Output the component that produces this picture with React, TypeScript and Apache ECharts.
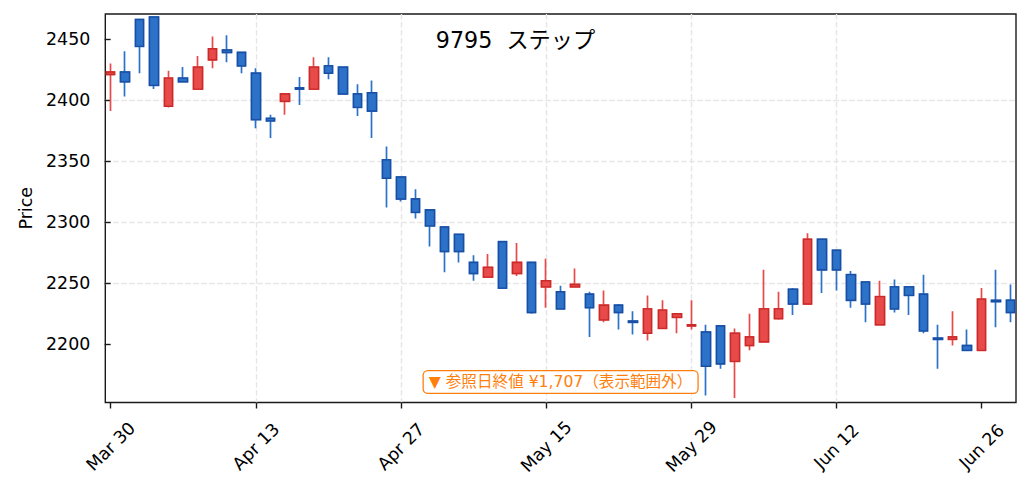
import React, { useEffect, useRef } from 'react';
import * as echarts from 'echarts';

// ---- data ----
const tickIndices = [0, 10, 20, 30, 40, 50, 60];
const tickLabels = ['Mar 30', 'Apr 13', 'Apr 27', 'May 15', 'May 29', 'Jun 12', 'Jun 26'];
const priceTicks = [2200, 2250, 2300, 2350, 2400, 2450];

const opens = [
  2421, 2423, 2466, 2468, 2395, 2418, 2409, 2433, 2441, 2439,
  2422, 2385, 2399, 2410, 2409, 2428, 2427, 2405, 2406, 2351,
  2337, 2319, 2310, 2296, 2290, 2267, 2255, 2284, 2258, 2267,
  2247, 2243, 2247, 2241, 2220, 2232, 2219, 2209, 2213, 2222,
  2215, 2210, 2215, 2186, 2199, 2202, 2221, 2245, 2233, 2286,
  2277, 2257, 2251, 2216, 2247, 2247, 2241, 2205, 2204, 2199,
  2195, 2236, 2236,
];
const closes = [
  2423, 2415, 2444, 2412, 2418, 2415, 2427, 2442, 2439, 2428,
  2384, 2383, 2405, 2409, 2427, 2422, 2405, 2394, 2391, 2336,
  2319, 2308, 2297, 2276, 2276, 2258, 2263, 2246, 2267, 2226,
  2252, 2229, 2249, 2230, 2232, 2226, 2218, 2229, 2228, 2225,
  2216, 2182, 2184, 2209, 2206, 2229, 2229, 2233, 2286, 2261,
  2261, 2236, 2233, 2239, 2229, 2240, 2211, 2204, 2206, 2195,
  2237, 2235, 2226,
];
const lows = [
  2391, 2403, 2422, 2409, 2394, 2415, 2409, 2426, 2431, 2422,
  2377, 2369, 2388, 2396, 2409, 2417, 2405, 2387, 2369, 2312,
  2317, 2303, 2280, 2259, 2267, 2252, 2255, 2246, 2256, 2225,
  2230, 2229, 2247, 2206, 2218, 2212, 2208, 2203, 2213, 2209,
  2212, 2158, 2180, 2156, 2195, 2202, 2220, 2224, 2233, 2242,
  2244, 2230, 2218, 2216, 2226, 2224, 2209, 2180, 2199, 2195,
  2195, 2214, 2218,
];
const highs = [
  2430, 2440, 2466, 2468, 2424, 2427, 2436, 2452, 2453, 2439,
  2426, 2388, 2405, 2419, 2435, 2435, 2427, 2413, 2416, 2362,
  2337, 2327, 2310, 2296, 2290, 2273, 2274, 2284, 2283, 2267,
  2270, 2248, 2262, 2243, 2244, 2233, 2227, 2240, 2236, 2225,
  2236, 2216, 2215, 2213, 2225, 2261, 2243, 2246, 2291, 2286,
  2277, 2260, 2251, 2252, 2253, 2247, 2257, 2216, 2227, 2212,
  2246, 2261, 2249,
];

const titleText = '9795  ステップ';
const refClose = 1707;

// ---- style ----
const FONT = "'DejaVu Sans', 'Noto Sans CJK JP', sans-serif";
const UP_FILL = '#e84a4a';
const UP_EDGE = '#c92a2a';
const DOWN_FILL = '#2c72c8';
const DOWN_EDGE = '#1a4ea2';
const GRID_COLOR = '#e6e6e6';
const FRAME = '#1a1a1a';

export default function App() {
  const ref = useRef<HTMLDivElement>(null);

  useEffect(() => {
    if (!ref.current) return;
    const chart = echarts.init(ref.current, null, { renderer: 'svg' });

    const full = opens.map((o, i) => [i, o, closes[i], lows[i], highs[i]]);
    const bodies = opens.map((o, i) => [i, o, closes[i], Math.min(o, closes[i]), Math.max(o, closes[i])]);

    const option: any = {
      animation: false,
      backgroundColor: '#ffffff',
      title: {
        text: titleText,
        left: 'center',
        top: 28.5,
        padding: 0,
        z: 10,
        textStyle: { fontFamily: FONT, fontSize: 22.2, fontWeight: 'normal', color: '#000' },
      },
      grid: {
        left: 105.3,
        right: 15,
        top: 14,
        bottom: 89.5,
        show: true,
        borderColor: FRAME,
        borderWidth: 1.4,
        backgroundColor: 'transparent',
        containLabel: false,
        outerBoundsMode: 'none',
      },
      xAxis: {
        type: 'value',
        min: -0.37,
        max: 62.37,
        axisLine: { show: false },
        axisTick: {
          show: true,
          customValues: tickIndices,
          length: 6,
          lineStyle: { color: FRAME, width: 1.4 },
        },
        axisLabel: {
          show: true,
          customValues: tickIndices,
          rotate: 45,
          align: 'center',
          verticalAlign: 'middle',
          margin: 44,
          fontFamily: FONT,
          fontSize: 17.4,
          color: '#000',
          formatter: (v: number) => {
            const k = tickIndices.indexOf(Math.round(v));
            return k >= 0 ? tickLabels[k] : '';
          },
        },
        splitLine: {
          show: true,
          showMinLine: false,
          showMaxLine: false,
          lineStyle: { color: GRID_COLOR, width: 1.4, type: [5.5, 2.5] },
        },
      },
      yAxis: {
        type: 'value',
        min: 2152.3,
        max: 2470.5,
        name: 'Price',
        nameLocation: 'middle',
        nameGap: 63,
        nameTextStyle: { fontFamily: FONT, fontSize: 17.4, color: '#000' },
        axisLine: { show: false },
        axisTick: {
          show: true,
          customValues: priceTicks,
          length: 6,
          lineStyle: { color: FRAME, width: 1.4 },
        },
        axisLabel: {
          show: true,
          customValues: priceTicks,
          margin: 15,
          fontFamily: FONT,
          fontSize: 17.4,
          color: '#000',
          formatter: (v: number) => String(Math.round(v)),
        },
        splitLine: {
          show: true,
          showMinLine: false,
          showMaxLine: false,
          lineStyle: { color: GRID_COLOR, width: 1.4, type: [5.5, 2.5] },
        },
      },
      series: [
        {
          type: 'candlestick',
          name: 'wick',
          data: full,
          barWidth: 9,
          itemStyle: {
            color: UP_FILL,
            color0: DOWN_FILL,
            borderColor: UP_FILL,
            borderColor0: DOWN_FILL,
            borderWidth: 1.7,
          },
          z: 2,
        },
        {
          type: 'candlestick',
          name: 'body',
          data: bodies,
          barWidth: 9,
          itemStyle: {
            color: UP_FILL,
            color0: DOWN_FILL,
            borderColor: UP_EDGE,
            borderColor0: DOWN_EDGE,
            borderWidth: 1.4,
          },
          z: 3,
        },
      ],
      graphic: [
        {
          type: 'text',
          x: 560.6,
          y: 382,
          z: 100,
          style: {
            text: `▼ 参照日終値 ¥${refClose.toLocaleString('en-US')}（表示範囲外）`,
            fill: '#ff7f0e',
            fontFamily: FONT,
            fontSize: 15.6,
            align: 'center',
            verticalAlign: 'middle',
            backgroundColor: '#ffffff',
            borderColor: '#ff7f0e',
            borderWidth: 1.3,
            borderRadius: 4,
            padding: [3, 5],
          },
        },
      ],
    };

    chart.setOption(option);
    return () => chart.dispose();
  }, []);

  return (
    <div
      ref={ref}
      style={{ position: 'fixed', left: 0, top: 0, width: 1031, height: 492, background: '#fff' }}
    />
  );
}
